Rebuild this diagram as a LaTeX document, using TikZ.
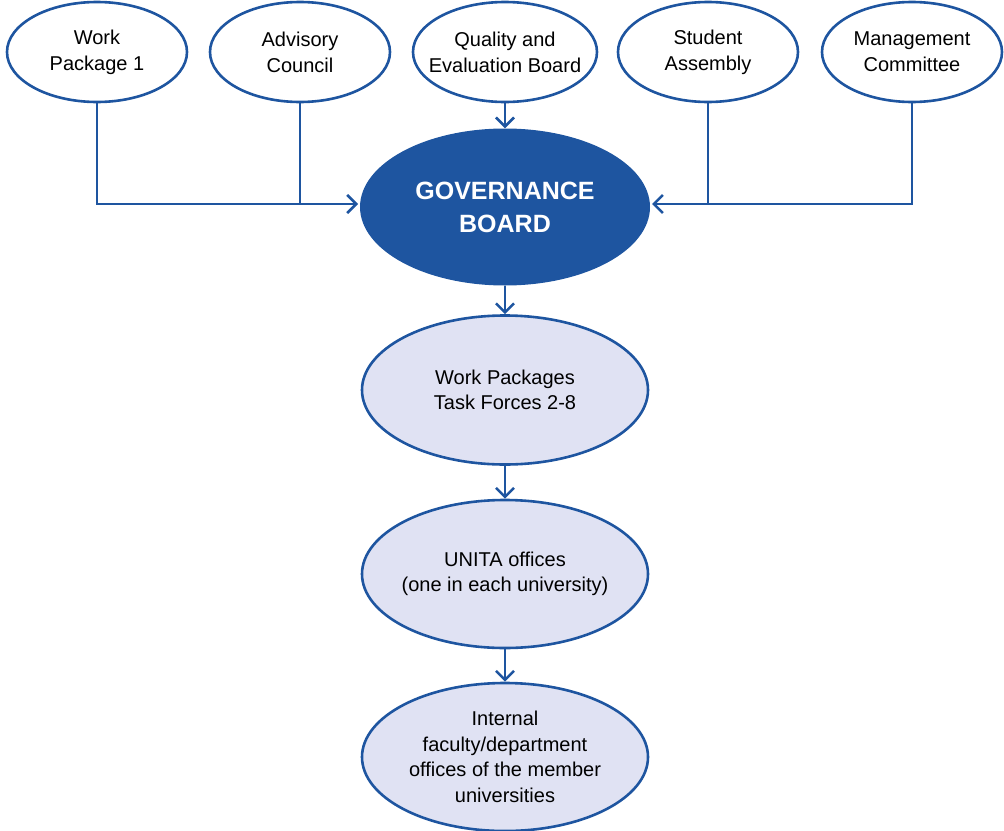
\documentclass[tikz,border=0pt]{standalone}
\usepackage{fontspec}
\setmainfont{Liberation Sans}
\usetikzlibrary{shapes.geometric,arrows.meta}
\definecolor{ublue}{HTML}{1E55A0}
\definecolor{ulight}{HTML}{E0E2F3}
\tikzset{
  topell/.style={ellipse, draw=ublue, line width=2.6pt, fill=white, minimum width=180pt, minimum height=100pt, inner xsep=-15pt, inner ysep=0pt, align=center, font=\fontsize{20}{26}\selectfont, text=black},
  lowell/.style={ellipse, draw=ublue, line width=2.6pt, fill=ulight, minimum width=286pt, minimum height=149pt, inner xsep=-15pt, inner ysep=0pt, align=center, font=\fontsize{20}{25.5}\selectfont, text=black},
  govell/.style={ellipse, fill=ublue, minimum width=290pt, minimum height=157pt, inner xsep=-15pt, inner ysep=0pt, align=center, font=\fontsize{25}{33}\selectfont\bfseries, text=white},
  conn/.style={draw=ublue, line width=2.6pt},
  arr/.style={conn, -{Straight Barb[length=9pt, width=18pt, line width=2.6pt]}}
}
\begin{document}
\begin{tikzpicture}[x=1pt,y=-1pt]
\useasboundingbox (0,0) rectangle (1004,830);
\begin{scope}
\clip (0,0) rectangle (1004,830);
\node[topell] (wp1) at (97,52) {Work\\Package 1};
\node[topell] (adv) at (300,52) {Advisory\\Council};
\node[topell, minimum width=184pt] (qual) at (505,52) {Quality and\\Evaluation Board};
\node[topell] (stud) at (708,52) {Student\\Assembly};
\node[topell] (mgmt) at (912,52) {Management\\Committee};
\node[govell] (gov) at (505,207) {GOVERNANCE\\BOARD};
\node[lowell] (wps) at (505,390) {Work Packages\\Task Forces 2-8};
\node[lowell, minimum height=148pt] (unita) at (505,574) {UNITA offices\\(one in each university)};
\node[lowell, minimum height=148pt] (intl) at (505,757) {Internal\\faculty/department\\offices of the member\\universities};
\coordinate (gl) at (358,204);
\coordinate (gr) at (652,204);
\draw[arr] (wp1.south) |- (gl);
\draw[conn] (adv.south) -- (adv.south |- gl);
\draw[arr] (mgmt.south) |- (gr);
\draw[conn] (stud.south) -- (stud.south |- gr);
\draw[arr] (qual.south) -- (gov.north);
\draw[arr] (gov.south) -- (wps.north);
\draw[arr] (wps.south) -- (unita.north);
\draw[arr] (unita.south) -- (intl.north);
\end{scope}
\end{tikzpicture}
\end{document}
